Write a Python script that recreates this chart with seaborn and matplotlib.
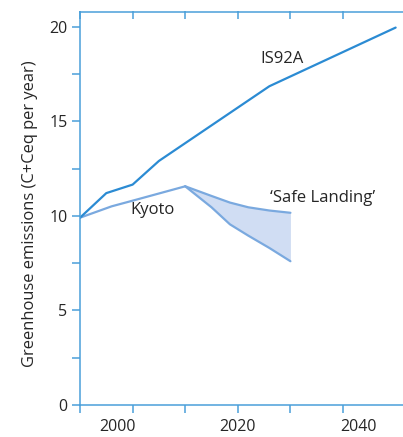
import matplotlib
matplotlib.use("Agg")
import matplotlib.pyplot as plt
import seaborn as sns
import pandas as pd
from matplotlib.ticker import MultipleLocator, FixedLocator

# data
is92a_years = [1990, 1995, 2000, 2005, 2026, 2050]
is92a_vals = [9.9, 11.2, 11.65, 12.9, 16.85, 19.95]

kyoto_years = [1990, 1996, 2000, 2005, 2010]
kyoto_vals = [9.9, 10.5, 10.8, 11.18, 11.56]

safe_years = [2010, 2015, 2018.5, 2022, 2026, 2030]
safe_upper = [11.56, 11.05, 10.7, 10.45, 10.28, 10.16]
safe_lower = [11.56, 10.45, 9.55, 8.95, 8.3, 7.6]

x_ticks = [1990, 2000, 2010, 2020, 2030, 2040]
# the year labels in the original sit a little off their ticks
x_label_pos = [1997.1, 2020, 2042.9]
x_labels = ['2000', '2020', '2040']

sns.set_style("ticks")
plt.rcParams['font.family'] = ['Open Sans', 'DejaVu Sans']

spine_col = '#4a9fda'
fig = plt.figure(figsize=(4.03, 4.37), dpi=100)
ax = fig.add_axes([80/403, 1 - 405/437, 323/403, (405 - 11.5)/437])

df_is = pd.DataFrame({'year': is92a_years, 'val': is92a_vals})
df_ky = pd.DataFrame({'year': kyoto_years, 'val': kyoto_vals})
df_safe = pd.DataFrame({'year': safe_years, 'upper': safe_upper, 'lower': safe_lower})

ax.fill_between(df_safe['year'], df_safe['lower'], df_safe['upper'], color='#d0ddf3', lw=0)
sns.lineplot(data=df_safe, x='year', y='upper', ax=ax, color='#7aa9df', lw=1.6)
sns.lineplot(data=df_safe, x='year', y='lower', ax=ax, color='#7aa9df', lw=1.6)
sns.lineplot(data=df_ky, x='year', y='val', ax=ax, color='#7aa9df', lw=1.6)
sns.lineplot(data=df_is, x='year', y='val', ax=ax, color='#2b8bd3', lw=1.6)

ax.set_xlim(1990, 2051.4)
ax.set_ylim(0, 20.8)
ax.xaxis.remove_overlapping_locs = False
ax.xaxis.set_major_locator(FixedLocator(x_ticks))
ax.xaxis.set_minor_locator(FixedLocator(x_label_pos))
ax.set_xticklabels([''] * len(x_ticks))
ax.set_xticklabels(x_labels, minor=True)
ax.yaxis.set_major_locator(MultipleLocator(5))
ax.yaxis.set_minor_locator(MultipleLocator(2.5))

for s in ['left', 'bottom', 'top']:
    ax.spines[s].set_color(spine_col)
    ax.spines[s].set_linewidth(1.1)
ax.spines['right'].set_visible(False)

ax.tick_params(axis='y', which='both', direction='out', length=6, width=1.1,
               color=spine_col, labelsize=11.5, pad=3)
ax.tick_params(axis='x', which='major', direction='out', length=6, width=1.1,
               color=spine_col)
ax.tick_params(axis='x', which='minor', length=0, labelsize=11.5, pad=10)

# inward ticks along the top edge
top = ax.secondary_xaxis('top')
top.set_xticks(x_ticks)
top.set_xticklabels([])
top.spines['top'].set_visible(False)
top.tick_params(axis='x', direction='in', length=6, width=1.1, color=spine_col)

ax.set_xlabel('')
ax.set_ylabel('Greenhouse emissions (C+Ceq per year)', fontsize=11.9)
ax.yaxis.set_label_coords(-0.13, 1 - (214 - 11.5) / (405 - 11.5))

ax.text(2028.4, 18.3, 'IS92A', fontsize=12, ha='center', va='center')
ax.text(2003.7, 10.3, 'Kyoto', fontsize=12, ha='center', va='center')
ax.text(2036.2, 10.95, '\u2018Safe Landing\u2019', fontsize=12, ha='center', va='center')

fig.savefig('out.png', dpi=100)
